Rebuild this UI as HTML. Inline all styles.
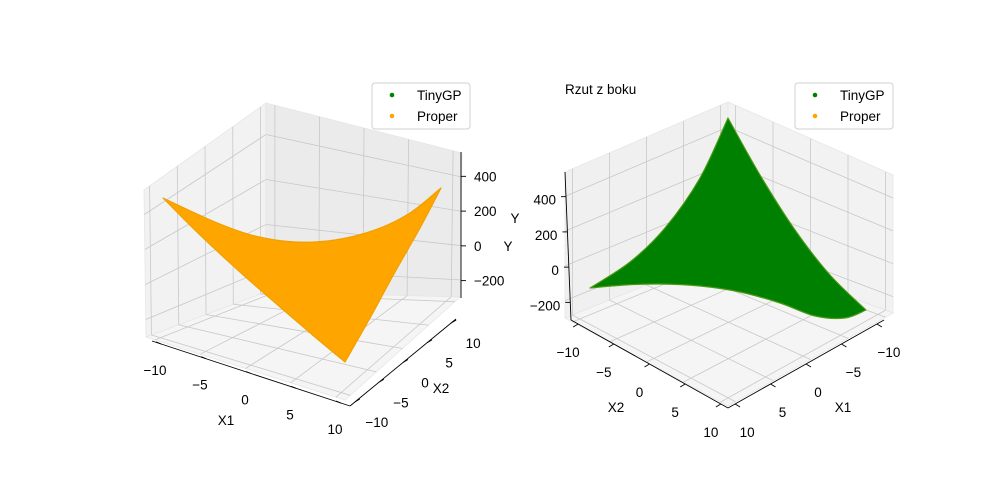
<!DOCTYPE html>
<html><head><meta charset="utf-8"><style>
body{margin:0;background:#fff}
svg{display:block;font-family:"Liberation Sans","DejaVu Sans",sans-serif}
</style></head><body>
<svg id="fig" width="1000" height="500" viewBox="0 0 1000 500">
<rect width="1000" height="500" fill="#fff"/>
<g id="left"></g>
<g id="right"></g>
</svg>
<script>
const xTicks=[-10,-5,0,5,10];
const xTickLabels=['\u221210','\u22125','0','5','10'];
const zTicks=[-200,0,200,400];
const zTickLabels=['\u2212200','0','200','400'];
const xLim=[-11,11];
const zLim=[-300,540];
const legendLabels=['TinyGP','Proper'];
const legendColors=['green','orange'];
// surface outline edges (screen points), each edge smooth
const properEdges=[
 [[163,198],[200,235],[240,272],[280,307],[315,337],[345,362]],
 [[345,362],[370,318],[395,272],[420,228],[441,188]],
 [[441,188],[410,213],[375,230],[335,240],[295,242],[255,236],[215,222],[163,198]]
];
const tinyEdges=[
 [[728,118],[760,175],[795,230],[830,275],[866,310]],
 [[866,310],[845,318],[815,316],[780,303],[740,292],[700,286],[660,284],[625,285],[590,288]],
 [[590,288],[630,262],[665,228],[700,178],[728,118]]
];

const NS='http://www.w3.org/2000/svg';
function el(tag,attrs,parent){const e=document.createElementNS(NS,tag);for(const k in attrs)e.setAttribute(k,attrs[k]);parent.appendChild(e);return e;}
const fx=v=>(v-xLim[0])/(xLim[1]-xLim[0]);
const fz=v=>(v-zLim[0])/(zLim[1]-zLim[0]);
function Q(q,s,t){
  const a=[q[0][0]+(q[1][0]-q[0][0])*s,q[0][1]+(q[1][1]-q[0][1])*s];
  const b=[q[2][0]+(q[3][0]-q[2][0])*s,q[2][1]+(q[3][1]-q[2][1])*s];
  return [a[0]+(b[0]-a[0])*t,a[1]+(b[1]-a[1])*t];
}
function gridLine(g,a,b){const l=el('line',{x1:a[0],y1:a[1],x2:b[0],y2:b[1],stroke:'#c8c8c8','stroke-width':0.8},g);
  
  }
function pane(g,q,fill,uLines,vLines,name){
  const p=el('polygon',{points:[q[0],q[1],q[3],q[2]].map(p=>p.join(',')).join(' '),fill:fill,stroke:'#e6e6e6','stroke-width':0.8},g);
  
  
  uLines.forEach(u=>gridLine(g,Q(q,u,0),Q(q,u,1)));
  vLines.forEach(v=>gridLine(g,Q(q,0,v),Q(q,1,v)));
}
function text(g,x,y,s,name,anchor){const t=el('text',{x:x,y:y,'font-size':13.5,fill:'#000','text-anchor':anchor||'middle'},g);t.textContent=s;
  
  return t;}
function line(g,a,b,name,w){const l=el('line',{x1:a[0],y1:a[1],x2:b[0],y2:b[1],stroke:'#000','stroke-width':w||0.9},g);
  
  }
function axis(g,a,b,ticks,labels,dx,dy,tlen,name){
  line(g,a,b,name+'-line');
  ticks.forEach((v,i)=>{const f=fx(v);const p=[a[0]+(b[0]-a[0])*f,a[1]+(b[1]-a[1])*f];
    line(g,p,[p[0]+tlen[0],p[1]+tlen[1]],name+'-tick');
    text(g,p[0]+dx,p[1]+dy,labels[i],name+'-tick-label');});
}
function legend(g,x,y){
  const r=el('rect',{x:x,y:y,width:98,height:46,rx:3,fill:'#fff',stroke:'#d0d0d0','stroke-width':1},g);
  
  
  legendLabels.forEach((s,i)=>{const c=el('circle',{cx:x+20,cy:y+12+i*21,r:2.3,fill:legendColors[i]},g);
    
    
    text(g,x+45,y+17+i*21,s,'legend-entry-'+s.toLowerCase(),'start');});
}
function crEdge(pts,first){
  let d=first?'M'+pts[0].join(','):'';
  for(let i=0;i<pts.length-1;i++){
    const p0=pts[Math.max(i-1,0)],p1=pts[i],p2=pts[i+1],p3=pts[Math.min(i+2,pts.length-1)];
    const c1=[p1[0]+(p2[0]-p0[0])/6,p1[1]+(p2[1]-p0[1])/6],c2=[p2[0]-(p3[0]-p1[0])/6,p2[1]-(p3[1]-p1[1])/6];
    d+=' C'+c1.join(',')+' '+c2.join(',')+' '+p2.join(',');
  }
  return d;
}
function surface(g,edges,fill,stroke,name){
  const d=edges.map((e,i)=>crEdge(e,i===0)).join(' ')+' Z';
  const p=el('path',{d:d,fill:fill,stroke:stroke,'stroke-width':1.2,'stroke-linejoin':'round'},g);
  
  }

const xf=xTicks.map(fx), zf=zTicks.map(fz);
// LEFT
(function(){
 const g=document.getElementById('left');
 const L=[146,337],F=[345,400],R=[460,297],B=[266,292];
 const TL=[144,190],TB=[266,103],TR=[462,153];
 pane(g,[L,B,TL,TB],'#f2f2f2',xf,zf,'x2-pane');
 pane(g,[B,R,TB,TR],'#ebebeb',xf,zf,'x1-pane');
 pane(g,[L,F,B,R],'#f5f5f5',[],[],'floor-pane');
 xf.forEach(f=>{gridLine(g,Q([L,F,B,R],f,0),Q([L,F,B,R],f,1));gridLine(g,Q([L,F,B,R],0,f),Q([L,F,B,R],1,f));});
 surface(g,properEdges,'orange','#f0a000','proper-surface');
 axis(g,[152,341],[350,406],xTicks,xTickLabels,-6,31,[-5,-2],'x1-axis');
 text(g,226,425,'X1','x1-axis-title');
 axis(g,[350,406],[456,319],xTicks,xTickLabels,22,25,[5,-3],'x2-axis');
 text(g,441,393,'X2','x2-axis-title');
 line(g,[461,152],[461,298],'z-axis-line');
 zTicks.forEach((v,i)=>{const y=298-(298-152)*fz(v);line(g,[461,y],[466,y],'z-tick');text(g,474,y+5,zTickLabels[i],'z-tick-label','start');});
 text(g,508,251,'Y','z-axis-title');
 legend(g,372,83);
})();
// RIGHT
(function(){
 const g=document.getElementById('right');
 const L=[565,318],F=[728,406],R=[893,313],B=[728,252];
 const TL=[565,172],TB=[728,102],TR=[893,175];
 pane(g,[L,B,TL,TB],'#f0f0f0',xf,zf,'x1-pane');
 pane(g,[B,R,TB,TR],'#f2f2f2',xf,zf,'x2-pane');
 pane(g,[L,F,B,R],'#f5f5f5',[],[],'floor-pane');
 xf.forEach(f=>{gridLine(g,Q([L,F,B,R],f,0),Q([L,F,B,R],f,1));gridLine(g,Q([L,F,B,R],0,f),Q([L,F,B,R],1,f));});
 surface(g,tinyEdges,'green','#4a9a10','tinygp-surface');
 axis(g,[571,320],[728,408],xTicks,xTickLabels,-10,33,[-5,3],'x2-axis');
 text(g,616,412,'X2','x2-axis-title');
 axis(g,[884,320],[728,408],xTicks,xTickLabels,12,33,[5,3],'x1-axis');
 text(g,843,412,'X1','x1-axis-title');
 line(g,[565,172],[571,320],'z-axis-line');
 zTicks.forEach((v,i)=>{const f=fz(v);const x=571-6*f,y=320-(320-172)*f;line(g,[x,y],[x-5,y],'z-tick');text(g,x-10,y+8,zTickLabels[i],'z-tick-label','end');});
 text(g,515,223,'Y','z-axis-title');
 text(g,565,94,'Rzut z boku','plot-title','start');
 legend(g,795,83);
})();
</script>
</body></html>
